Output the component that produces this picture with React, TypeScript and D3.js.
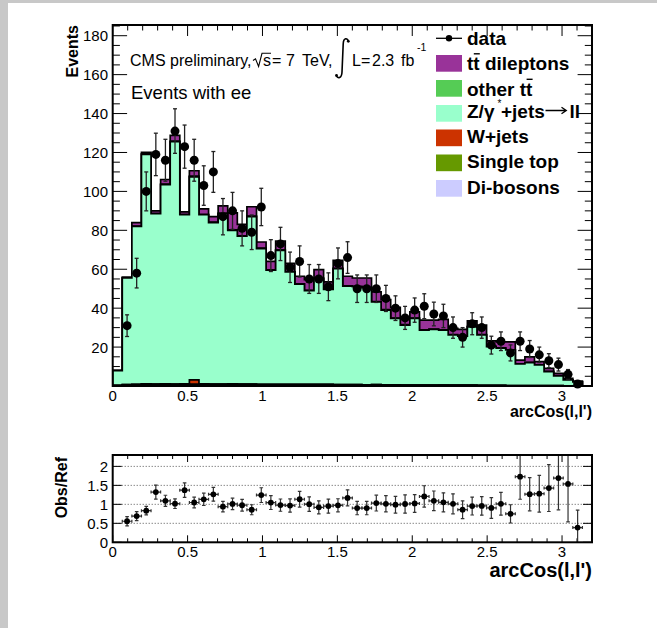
import React from "react";
import * as d3 from "d3";

// Binning and axis ranges
const binCount = 50;
const xRange: [number, number] = [0, 3.2];
const yRangeMain: [number, number] = [0, 185.5];
const yRangeRatio: [number, number] = [0, 2.3];

// Observed events per bin
const dataCounts = [
  0, 31, 58, 100, 119, 116, 131, 123, 116, 103, 110, 87, 90, 81, 79, 92, 67, 73, 61, 64,
  55, 55, 51, 63, 66, 50, 50, 50, 45, 40, 35, 39, 41, 37, 36, 30, 25, 32, 30, 21,
  23, 17, 23, 19, 16, 13, 11, 6, 1, 0,
];

// Simulated contributions per bin
const ttDileptons = [
  0.1, 0.3, 1.8, 0.8, 1.3, 2.3, 3.0, 1.3, 2.8, 2.8, 2.8, 3.8, 8.8, 5.8, 4.8, 3.2, 4.3, 4.6, 4.2, 3.9,
  5.5, 4.4, 3.7, 4.1, 4.9, 4.3, 4.8, 5.0, 5.2, 5.5, 3.2, 3.2, 5.0, 4.6, 5.3, 3.2, 3.3, 2.9, 4.9, 2.8,
  3.1, 4.1, 1.9, 2.9, 1.6, 1.6, 1.2, 0.7, 0.4, 0,
];
const otherTt = [
  0, 0.1, 0.2, 0.3, 0.2, 0.3, 0.3, 0.2, 0.3, 0.2, 0.2, 0.3, 0.2, 0.2, 0.3, 0.2, 0.2, 0.2, 0.2, 0.2,
  0.2, 0.2, 0.2, 0.2, 0.2, 0.2, 0.2, 0.2, 0.2, 0.2, 0.2, 0.2, 0.2, 0.2, 0.2, 0.2, 0.2, 0.2, 0.2, 0.2,
  0.2, 0.1, 0.1, 0.1, 0.1, 0.1, 0.1, 0.1, 0, 0,
];
const zJets = [
  7.6, 54.8, 81.1, 117.9, 87.5, 102.4, 124.5, 86.9, 104.4, 86.9, 83.0, 87.5, 78.9, 76.0, 86.0, 69.8, 58.6, 68.8, 57.8, 51.4,
  48.2, 54.4, 48.7, 59.6, 50.6, 50.3, 49.9, 42.5, 38.4, 34.1, 30.8, 34.2, 28.2, 28.7, 28.2, 25.8, 25.2, 30.0, 25.9, 19.9,
  19.1, 18.3, 11.1, 11.8, 10.6, 7.2, 5.05, 3.0, 2.1, 0,
];
const wJets = [
  0, 0, 0, 0, 0, 0, 0, 0, 2.1, 0, 0, 0, 0, 0, 0, 0, 0, 0, 0, 0,
  0, 0, 0, 0, 0, 0, 0, 0, 0, 0, 0, 0, 0, 0, 0, 0, 0, 0, 0, 0,
  0, 0, 0, 0, 0, 0, 0, 0, 0, 0,
];
const singleTop = [
  0.1, 0.3, 0.4, 0.5, 0.5, 0.5, 0.5, 0.5, 0.5, 0.5, 0.5, 0.5, 0.5, 0.5, 0.5, 0.4, 0.4, 0.4, 0.4, 0.4,
  0.4, 0.4, 0.4, 0.3, 0.3, 0.3, 0.3, 0.3, 0.3, 0.3, 0.2, 0.2, 0.2, 0.2, 0.2, 0.2, 0.2, 0.2, 0.1, 0.1,
  0.1, 0.1, 0.1, 0.1, 0.1, 0.1, 0.05, 0.05, 0.02, 0,
];
const diBosons = [
  0.2, 0.4, 0.5, 0.6, 0.5, 0.6, 0.5, 0.6, 0.5, 0.6, 0.5, 0.5, 0.6, 0.5, 0.5, 0.4, 0.5, 0.5, 0.4, 0.5,
  0.4, 0.4, 0.5, 0.4, 0.4, 0.4, 0.3, 0.4, 0.3, 0.3, 0.3, 0.3, 0.3, 0.2, 0.3, 0.2, 0.2, 0.2, 0.2, 0.2,
  0.2, 0.1, 0.1, 0.1, 0.1, 0.1, 0.1, 0.05, 0.05, 0,
];

// Tick labels
const xTickLabels = ["0", "0.5", "1", "1.5", "2", "2.5", "3"];
const yTickLabelsMain = ["20", "40", "60", "80", "100", "120", "140", "160", "180"];
const ratioTickLabels = ["0", "0.5", "1", "1.5", "2"];
const ratioGridLines = [0.5, 1, 1.5, 2];

const COLORS = {
  ttd: "#993399",
  ott: "#55cc55",
  z: "#99ffcc",
  w: "#cc3300",
  st: "#669900",
  db: "#ccccff",
};

const FONT = "'Liberation Sans', Arial, Helvetica, sans-serif";

export default function App() {
  const x = d3.scaleLinear().domain(xRange).range([112.7, 592]);
  const y = d3.scaleLinear().domain(yRangeMain).range([386, 25]);
  const yr = d3.scaleLinear().domain(yRangeRatio).range([542.3, 455]);

  const edges = d3.range(binCount + 1).map((i) => xRange[0] + (i * (xRange[1] - xRange[0])) / binCount);
  const centers = d3.range(binCount).map((i) => (edges[i] + edges[i + 1]) / 2);

  const rows = d3.range(binCount).map((i) => ({
    db: diBosons[i],
    st: singleTop[i],
    w: wJets[i],
    z: zJets[i],
    ott: otherTt[i],
    ttd: ttDileptons[i],
  }));
  const keys = ["db", "st", "w", "z", "ott", "ttd"] as const;
  const stacked = d3.stack<any>().keys(keys as any)(rows);
  const totals = stacked[stacked.length - 1].map((d) => d[1]);

  const stepPath = (vals: number[]) => {
    const pts: [number, number][] = [[edges[0], 0]];
    vals.forEach((v, i) => {
      pts.push([edges[i], v], [edges[i + 1], v]);
    });
    pts.push([edges[binCount], 0]);
    return d3
      .line<[number, number]>()
      .x((d) => x(d[0]))
      .y((d) => y(d[1]))(pts) as string;
  };

  const layers = stacked
    .map((s) => ({ key: s.key as keyof typeof COLORS, cum: s.map((d) => d[1]) }))
    .reverse();

  const points = d3
    .range(binCount)
    .filter((i) => dataCounts[i] > 0)
    .map((i) => {
      const n = dataCounts[i];
      const ref = totals[i];
      const r = n / ref;
      return {
        i,
        xc: centers[i],
        n,
        err: Math.sqrt(n),
        r,
        rErr: r * Math.sqrt(1 / n + 1 / ref),
      };
    });

  const isMajor = (v: number, step: number) => Math.abs(v / step - Math.round(v / step)) < 1e-6;
  const xTicks = d3.range(0, 32).map((k) => k / 10);
  const yTicksMain = d3.range(0, 186, 5);
  const yTicksRatio = [0, 0.5, 1, 1.5, 2];

  const x0 = x(xRange[0]);
  const x1 = x(xRange[1]);
  const mTop = y(yRangeMain[1]);
  const mBot = y(0);
  const rTop = yr(yRangeRatio[1]);
  const rBot = yr(0);
  const halfBin = (x(edges[1]) - x(edges[0])) / 2;

  const legendBoxes = [
    { key: "ttd", color: COLORS.ttd, top: 55 },
    { key: "ott", color: COLORS.ott, top: 80 },
    { key: "z", color: COLORS.z, top: 105 },
    { key: "w", color: COLORS.w, top: 129.5 },
    { key: "st", color: COLORS.st, top: 154.5 },
    { key: "db", color: COLORS.db, top: 180 },
  ];

  return (
    <svg
      width={657}
      height={628}
      style={{ position: "absolute", left: 0, top: 0, background: "#fff", fontFamily: FONT }}
    >
      <defs>
        <clipPath id="ratioClip">
          <rect x={x0} y={rTop} width={x1 - x0} height={rBot - rTop} />
        </clipPath>
        <clipPath id="mainClip">
          <rect x={x0} y={mTop} width={x1 - x0} height={mBot - mTop} />
        </clipPath>
      </defs>
      <rect x={0} y={0} width={657} height={628} fill="#fff" />
      <rect x={0} y={0} width={657} height={3} fill="#c8c8c8" />
      <rect x={0} y={0} width={8} height={628} fill="#c8c8c8" />

      {/* ---------- upper pad ---------- */}
      <g stroke="#000" strokeWidth={1}>
        {yTicksMain.map((v) => {
          const len = isMajor(v, 20) ? 14.4 : 7.2;
          return (
            <g key={"yt" + v}>
              <line x1={x0} x2={x0 + len} y1={y(v)} y2={y(v)} />
              <line x1={x1} x2={x1 - len} y1={y(v)} y2={y(v)} />
            </g>
          );
        })}
        {xTicks.map((v) => {
          const len = isMajor(v, 0.5) ? 11 : 5.5;
          return (
            <g key={"xt" + v}>
              <line x1={x(v)} x2={x(v)} y1={mTop} y2={mTop + len} />
              <line x1={x(v)} x2={x(v)} y1={mBot} y2={mBot - len} />
            </g>
          );
        })}
      </g>

      <g clipPath="url(#mainClip)">
        {layers.map((l) => (
          <path
            key={l.key}
            d={stepPath(l.cum) + "Z"}
            fill={COLORS[l.key]}
            stroke="#000"
            strokeWidth={1.7}
            strokeLinejoin="miter"
          />
        ))}
      </g>

      <g stroke="#222" strokeWidth={1.3}>
        {points.map((p) => (
          <g key={"d" + p.i}>
            <line x1={x(p.xc)} x2={x(p.xc)} y1={y(p.n - p.err)} y2={y(p.n + p.err)} />
            <line x1={x(p.xc) - 2} x2={x(p.xc) + 2} y1={y(p.n - p.err)} y2={y(p.n - p.err)} />
            <line x1={x(p.xc) - 2} x2={x(p.xc) + 2} y1={y(p.n + p.err)} y2={y(p.n + p.err)} />
          </g>
        ))}
      </g>
      <g fill="#000">
        {points.map((p) => (
          <circle key={"c" + p.i} cx={x(p.xc)} cy={y(p.n)} r={4.5} />
        ))}
      </g>

      <rect x={x0} y={mTop} width={x1 - x0} height={mBot - mTop} fill="none" stroke="#000" strokeWidth={2} />

      <g fontSize={15} fill="#000">
        {xTickLabels.map((t) => (
          <text key={"xl" + t} x={x(+t)} y={401} textAnchor="middle">
            {t}
          </text>
        ))}
        {yTickLabelsMain.map((t) => (
          <text key={"yl" + t} x={108} y={y(+t) + 5.5} textAnchor="end">
            {t}
          </text>
        ))}
      </g>
      <text x={592} y={417} textAnchor="end" fontSize={16} fontWeight="bold">
        arcCos(l,l')
      </text>
      <text transform="translate(78,25) rotate(-90)" textAnchor="end" fontSize={16} fontWeight="bold">
        Events
      </text>

      {/* header text */}
      <g fontSize={16} fill="#000">
        <text x={130} y={66}>CMS preliminary,</text>
        <path d="M253,60.5 L255.5,58.8 L258.6,66.5 L262,53.3 L271,53.3" fill="none" stroke="#000" strokeWidth={1.1} />
        <text x={263} y={66}>s</text>
        <text x={272} y={66}>=</text>
        <text x={286} y={66}>7</text>
        <text x={302} y={66}>TeV,</text>
        <path d="M348.5,41.5 C347.5,37.5 343.5,37.5 343.2,44 L342,72 C341.8,78.5 337.5,79 336.3,75.5" fill="none" stroke="#000" strokeWidth={1.6} />
        <circle cx={348.3} cy={41.3} r={1.4} fill="#000" />
        <circle cx={336.5} cy={75.5} r={1.4} fill="#000" />
        <text x={352} y={66}>L</text>
        <text x={361} y={66}>=</text>
        <text x={372} y={66}>2.3</text>
        <text x={401} y={66}>fb</text>
        <text x={417} y={51} fontSize={10.5}>-1</text>
      </g>
      <text x={131} y={99} fontSize={18.5}>
        Events with ee
      </text>

      {/* legend */}
      <g>
        <line x1={436} x2={462} y1={38.3} y2={38.3} stroke="#000" strokeWidth={1.3} />
        <circle cx={449} cy={38.3} r={3.2} fill="#000" />
        {legendBoxes.map((b) => (
          <rect key={"lb" + b.key} x={436} y={b.top} width={26} height={16.7} fill={b.color} />
        ))}
        <g fontSize={19} fontWeight="bold" fill="#000">
          <text x={467} y={45}>data</text>
          <text x={467} y={70}>tt dileptons</text>
          <line x1={473.8} x2={479.8} y1={53.8} y2={53.8} stroke="#000" strokeWidth={1.4} />
          <text x={467} y={95.5}>other tt</text>
          <line x1={526.6} x2={532.6} y1={79.3} y2={79.3} stroke="#000" strokeWidth={1.4} />
          <text x={467} y={117.5}>Z/γ</text>
          <text x={497.5} y={107} fontSize={10} fontWeight="normal">*</text>
          <text x={501} y={117.5}>+jets</text>
          <path d="M545.5,110.5 H566 M561.5,107.2 L566.3,110.5 L561.5,113.8" fill="none" stroke="#000" strokeWidth={1.3} />
          <text x={569.5} y={117.5}>ll</text>
          <text x={467} y={143}>W+jets</text>
          <text x={467} y={168}>Single top</text>
          <text x={467} y={194}>Di-bosons</text>
        </g>
      </g>

      {/* ---------- ratio pad ---------- */}
      <g stroke="#555" strokeWidth={1} strokeDasharray="1,2">
        {ratioGridLines.map((v) => (
          <line key={"g" + v} x1={x0} x2={x1} y1={yr(v)} y2={yr(v)} />
        ))}
      </g>
      <g stroke="#000" strokeWidth={1}>
        {yTicksRatio.map((v) => (
          <g key={"ryt" + v}>
            <line x1={x0} x2={x0 + 9} y1={yr(v)} y2={yr(v)} />
            <line x1={x1} x2={x1 - 9} y1={yr(v)} y2={yr(v)} />
          </g>
        ))}
        {xTicks.map((v) => {
          const len = isMajor(v, 0.5) ? 7 : 4;
          return (
            <g key={"rxt" + v}>
              <line x1={x(v)} x2={x(v)} y1={rTop} y2={rTop + len} />
              <line x1={x(v)} x2={x(v)} y1={rBot} y2={rBot - len} />
            </g>
          );
        })}
      </g>
      <g clipPath="url(#ratioClip)">
        <g stroke="#333" strokeWidth={1.2}>
          {points.map((p) => {
            const cx = x(p.xc);
            const cy = yr(p.r);
            const lo = yr(Math.max(p.r - p.rErr, yRangeRatio[0]));
            const hi = yr(p.r + p.rErr);
            return (
              <g key={"re" + p.i}>
                <line x1={cx} x2={cx} y1={lo} y2={hi} />
                <line x1={cx - 1.8} x2={cx + 1.8} y1={yr(p.r - p.rErr)} y2={yr(p.r - p.rErr)} />
                <line x1={cx - 1.8} x2={cx + 1.8} y1={hi} y2={hi} />
                <line x1={cx - halfBin} x2={cx + halfBin} y1={cy} y2={cy} />
                <line x1={cx - halfBin} x2={cx - halfBin} y1={cy - 1.5} y2={cy + 1.5} />
                <line x1={cx + halfBin} x2={cx + halfBin} y1={cy - 1.5} y2={cy + 1.5} />
              </g>
            );
          })}
        </g>
        <g fill="#000">
          {points.map((p) => (
            <circle key={"rc" + p.i} cx={x(p.xc)} cy={yr(p.r)} r={2.9} />
          ))}
        </g>
      </g>
      <rect x={x0} y={rTop} width={x1 - x0} height={rBot - rTop} fill="none" stroke="#000" strokeWidth={2} />

      <g fontSize={15} fill="#000">
        {ratioTickLabels.map((t) => (
          <text key={"ryl" + t} x={108} y={yr(+t) + 5.5} textAnchor="end">
            {t}
          </text>
        ))}
        {xTickLabels.map((t) => (
          <text key={"rxl" + t} x={x(+t)} y={557} textAnchor="middle">
            {t}
          </text>
        ))}
      </g>
      <text x={592} y={577} textAnchor="end" fontSize={20} fontWeight="bold">
        arcCos(l,l')
      </text>
      <text transform="translate(67,457) rotate(-90)" textAnchor="end" fontSize={16} fontWeight="bold">
        Obs/Ref
      </text>
    </svg>
  );
}
